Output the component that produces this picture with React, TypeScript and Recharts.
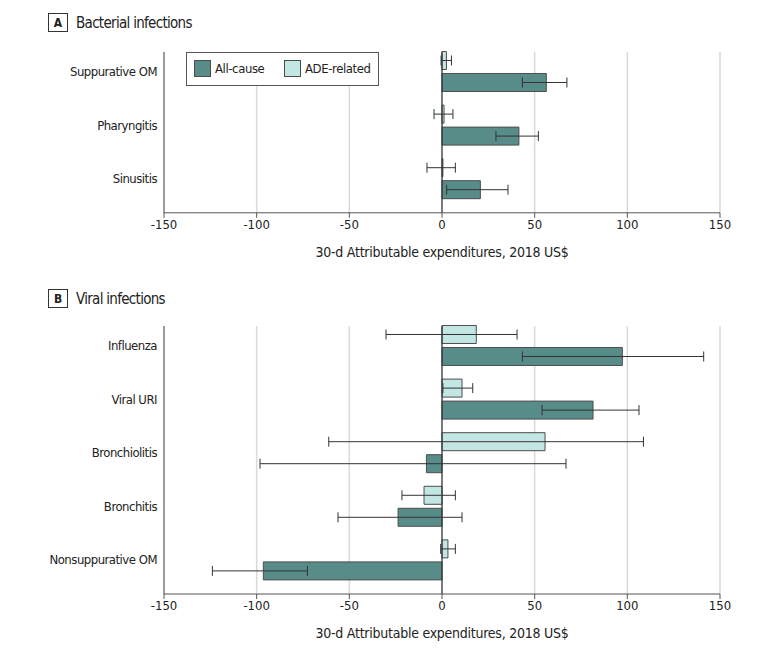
import { BarChart, Bar, XAxis, YAxis, CartesianGrid, ErrorBar, ReferenceLine, Label } from 'recharts'

// Panel A – bacterial infections
const bactNames = ['Suppurative OM', 'Pharyngitis', 'Sinusitis']
const bactAll = [56.3, 41.5, 20.7]
const bactAllLo = [43.4, 29.1, 2.5]
const bactAllHi = [67.4, 52.0, 35.6]
const bactAde = [2.4, 1.1, 0.5]
const bactAdeLo = [-0.5, -4.3, -8.1]
const bactAdeHi = [5.1, 5.9, 7.2]

// Panel B – viral infections
const viralNames = ['Influenza', 'Viral URI', 'Bronchiolitis', 'Bronchitis', 'Nonsuppurative OM']
const viralAll = [97.3, 81.5, -8.4, -23.7, -96.4]
const viralAllLo = [43.4, 54.0, -98.2, -56.1, -123.9]
const viralAllHi = [141.2, 106.3, 66.9, 10.8, -72.6]
const viralAde = [18.5, 10.8, 55.6, -9.7, 3.2]
const viralAdeLo = [-30.2, 0.5, -61.1, -21.6, -0.7]
const viralAdeHi = [40.5, 16.6, 108.7, 7.2, 7.2]

const xTicks = [-150, -100, -50, 0, 50, 100, 150]
const xTitle = '30-d Attributable expenditures, 2018 US$'

const ALL_FILL = '#578c89'
const ADE_FILL = '#c2e6e4'
const BAR_STROKE = '#4d4d4d'
const GRID = '#dadada'
const AXIS = '#555555'
const FONT = "'DejaVu Sans Condensed', 'Liberation Sans Narrow', sans-serif"

function buildRows(names: string[], all: number[], allLo: number[], allHi: number[],
  ade: number[], adeLo: number[], adeHi: number[]) {
  return names.map((name, i) => ({
    name,
    pos: i,
    all: all[i],
    allErr: [all[i] - allLo[i], allHi[i] - all[i]],
    ade: ade[i],
    adeErr: [ade[i] - adeLo[i], adeHi[i] - ade[i]],
  }))
}

interface PanelProps {
  names: string[]
  rows: ReturnType<typeof buildRows>
  height: number
  top: number
  labelOffset: number
}

function Panel({ names, rows, height, top, labelOffset }: PanelProps) {
  const n = names.length
  return (
    <BarChart
      width={780}
      height={height}
      data={rows}
      layout="vertical"
      barSize={18}
      barGap={4}
      margin={{ top, right: 60, left: 0, bottom: 0 }}
    >
      <CartesianGrid horizontal={false} stroke={GRID} strokeWidth={1.5} />
      <XAxis
        type="number"
        domain={[-150, 150]}
        ticks={xTicks}
        interval={0}
        tickSize={5}
        stroke={AXIS}
        height={height - top - n * 53.6}
        tick={{ fontSize: 13, fill: '#222', fontFamily: FONT }}
      >
        <Label value={xTitle} position="insideBottom" offset={labelOffset}
          style={{ fontSize: 14, fill: '#222', fontFamily: FONT, letterSpacing: -0.25 }} />
      </XAxis>
      <YAxis
        type="number"
        dataKey="pos"
        domain={[-0.36, n - 0.36]}
        ticks={names.map((_, i) => i)}
        interval={0}
        width={164}
        tickLine={false}
        stroke={AXIS}
        tickMargin={1}
        tickFormatter={(v: number) => names[v] ?? ''}
        tick={{ fontSize: 13, fill: '#222', fontFamily: FONT, letterSpacing: -0.5 }}
      />
      <ReferenceLine x={0} stroke="#333" strokeWidth={1.2} />
      <Bar dataKey="ade" fill={ADE_FILL} stroke={BAR_STROKE} strokeWidth={1} isAnimationActive={false}>
        <ErrorBar dataKey="adeErr" direction="x" width={5} stroke="#333" strokeWidth={1} />
      </Bar>
      <Bar dataKey="all" fill={ALL_FILL} stroke={BAR_STROKE} strokeWidth={1} isAnimationActive={false}>
        <ErrorBar dataKey="allErr" direction="x" width={5} stroke="#333" strokeWidth={1} />
      </Bar>
    </BarChart>
  )
}

function PanelTitle({ letter, text, top }: { letter: string; text: string; top: number }) {
  return (
    <div style={{ position: 'absolute', left: 48, top, display: 'flex', alignItems: 'center', fontFamily: FONT }}>
      <div style={{
        width: 18, height: 17, border: '1px solid #333', display: 'flex',
        alignItems: 'center', justifyContent: 'center', fontSize: 12, fontWeight: 'bold', color: '#222',
      }}>{letter}</div>
      <span style={{ marginLeft: 8, fontSize: 15, color: '#222', whiteSpace: 'nowrap', letterSpacing: -0.7 }}>{text}</span>
    </div>
  )
}

function LegendItem({ color, text, left }: { color: string; text: string; left: number }) {
  return (
    <div style={{ position: 'absolute', left, top: 7, display: 'flex', alignItems: 'center', whiteSpace: 'nowrap' }}>
      <span style={{ display: 'inline-block', width: 15, height: 15, background: color, border: `1px solid ${BAR_STROKE}` }} />
      <span style={{ marginLeft: 4, letterSpacing: -0.4 }}>{text}</span>
    </div>
  )
}

export default function App() {
  const bactRows = buildRows(bactNames, bactAll, bactAllLo, bactAllHi, bactAde, bactAdeLo, bactAdeHi)
  const viralRows = buildRows(viralNames, viralAll, viralAllLo, viralAllHi, viralAde, viralAdeLo, viralAdeHi)
  return (
    <div style={{ position: 'absolute', left: 0, top: 0, width: 780, height: 649, background: '#fff' }}>
      <div style={{ position: 'absolute', left: 0, top: 0 }}>
        <Panel names={bactNames} rows={bactRows} height={270} top={52} labelOffset={13} />
      </div>
      <div style={{ position: 'absolute', left: 0, top: 270 }}>
        <Panel names={viralNames} rows={viralRows} height={379} top={56} labelOffset={11} />
      </div>
      <PanelTitle letter="A" text="Bacterial infections" top={13} />
      <PanelTitle letter="B" text="Viral infections" top={289} />
      <div style={{
        position: 'absolute', left: 186, top: 52, width: 191, height: 32, border: '1px solid #555',
        background: '#fff', fontFamily: FONT, fontSize: 13, color: '#222',
      }}>
        <LegendItem color={ALL_FILL} text="All-cause" left={7} />
        <LegendItem color={ADE_FILL} text="ADE-related" left={97} />
      </div>
    </div>
  )
}
